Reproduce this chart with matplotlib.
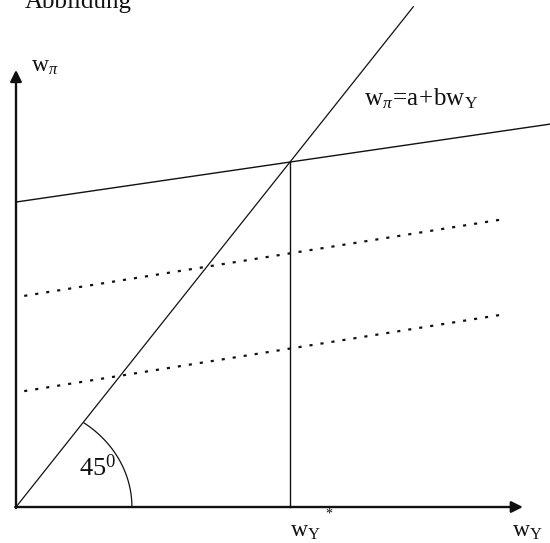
import numpy as np
import matplotlib
matplotlib.use("Agg")
import matplotlib.pyplot as plt

plt.rcParams['font.family'] = ['Liberation Serif', 'DejaVu Serif']
plt.rcParams['mathtext.fontset'] = 'custom'
plt.rcParams['mathtext.rm'] = 'Liberation Serif'
plt.rcParams['mathtext.it'] = 'Liberation Serif:italic'

# data (units chosen so the 45 degree line is w_pi = w_Y and w_Y* = 100)
diag_x = [0, 145]
diag_y = [0, 145]

solid_x = [0, 195]
solid_y = [88.4, 111.0]

dot1_x = [3, 178.5]
dot1_y = [61.2, 83.5]
dot2_x = [3, 178.5]
dot2_y = [33.6, 55.9]

wy_star = 100
wpi_star = 100

xaxis_end = 185
yaxis_end = 126.7

fig = plt.figure(figsize=(5.5, 5.43), dpi=100)
ax = fig.add_axes([0, 0, 1, 1])
ax.set_xlim(-5.84, 194.89)
ax.set_ylim(-10.43, 146.96)
ax.axis("off")

ink = '#111111'

# axes with arrows
ax.annotate('', xy=(0, yaxis_end), xytext=(0, -0.3),
            arrowprops=dict(arrowstyle='-|>', lw=1.7, color=ink, mutation_scale=17, shrinkA=0, shrinkB=0))
ax.annotate('', xy=(xaxis_end, 0), xytext=(-0.3, 0),
            arrowprops=dict(arrowstyle='-|>', lw=1.7, color=ink, mutation_scale=17, shrinkA=0, shrinkB=0))

# lines
ax.plot(diag_x, diag_y, color=ink, lw=0.9)
ax.plot(solid_x, solid_y, color=ink, lw=1.0)
ax.plot(dot1_x, dot1_y, color=ink, lw=1.6, linestyle=(0, (1.4, 3.6)))
ax.plot(dot2_x, dot2_y, color=ink, lw=1.6, linestyle=(0, (1.4, 3.6)))
ax.plot([wy_star, wy_star], [0, wpi_star], color=ink, lw=1.0)

# angle arc
t = np.linspace(0, np.radians(54), 60)
ax.plot(42.3 * np.cos(t), 30.1 * np.sin(t), color=ink, lw=0.9)

# labels
ax.text(3.3, 144.6, "Abbildung", fontsize=18, ha='left', va='baseline', color=ink, clip_on=False)
ax.text(10.5, 127.8, r'$\mathrm{w}_{\pi}$', fontsize=17, ha='center', va='center', color=ink)
ax.text(127.0, 118.3, r'$\mathrm{w}_{\pi}\!=\!\mathrm{a\!+\!bw}_{\mathrm{Y}}$', fontsize=18,
        ha='left', va='center', color=ink)
ax.text(29.8, 11.3, r'$\mathrm{45}^{\mathrm{0}}$', fontsize=19, ha='center', va='center', color=ink)
ax.text(105.5, -7.2, r'$\mathrm{w}_{\mathrm{Y}}$', fontsize=17, ha='center', va='center', color=ink)
ax.text(114.0, -2.0, '*', fontsize=10, ha='center', va='center', color=ink)
ax.text(186.5, -7.2, r'$\mathrm{w}_{\mathrm{Y}}$', fontsize=17, ha='center', va='center', color=ink)

plt.savefig("out.png", dpi=100)
